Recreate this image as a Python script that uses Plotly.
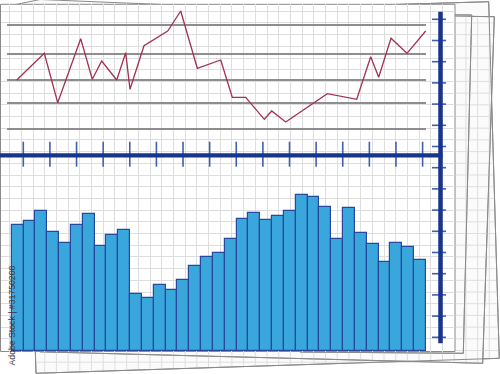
import plotly.graph_objects as go

W, H = 500, 374

# ---------------- data ----------------
bar_index = list(range(35))
bar_values = [125.7, 130.0, 139.3, 118.7, 108.0, 125.7, 136.7, 104.3, 115.7, 120.7,
              56.7, 52.7, 66.0, 60.7, 70.7, 85.0, 94.0, 98.0, 111.7, 131.7,
              138.0, 131.0, 134.3, 139.7, 156.0, 154.0, 143.7, 111.7, 143.0, 117.3,
              106.7, 88.7, 107.3, 103.7, 90.3]

line_x = [0, 27.6, 41.0, 64.0, 75.6, 85.0, 100.0, 109.0, 113.3, 127.3, 151.0, 164.0, 180.6,
          204.0, 215.6, 229.0, 247.6, 255.0, 269.0, 310.6, 340.0, 354.0, 362.0, 374.3,
          390.3, 409.0]
line_values = [75.0, 101.7, 52.3, 116.3, 75.7, 94.0, 75.0, 102.3, 65.7, 109.3, 124.0, 144.0,
               86.7, 95.0, 57.7, 57.7, 35.7, 44.0, 33.0, 61.3, 55.7, 98.3, 77.7, 116.7,
               101.7, 124.0]

ref_levels = [130.0, 101.0, 75.0, 51.7, 25.7]

watermark = "Adobe Stock | #31750208"

# ---------------- helpers (pixel -> paper) ----------------
def X(px):
    return px / W

def Y(py):
    return 1 - py / H

def poly(points, fill, line_color="#8a8a8a", lw=1.0):
    d = "M " + " L ".join(f"{X(a):.5f},{Y(b):.5f}" for a, b in points) + " Z"
    return dict(type="path", path=d, xref="paper", yref="paper", layer="below",
                fillcolor=fill, line=dict(color=line_color, width=lw))

def seg(x0, y0, x1, y1, color, lw, layer="below"):
    return dict(type="line", xref="paper", yref="paper", layer=layer,
                x0=X(x0), y0=Y(y0), x1=X(x1), y1=Y(y1),
                line=dict(color=color, width=lw))

shapes = []
GRID = "#dedede"
STEP = 11.7

# sheets behind (back to front)
sheet_F = [(16.7, 4.3), (40, -0.5), (175, 5.0), (100, 60)]
sheet_B = [(25, 15.6), (488.7, 1.7), (499.3, 358.3), (36, 373.3)]
sheet_D = [(300, 14.0), (494.3, 16.7), (482.7, 363.3), (40, 351.8)]
sheet_C = [(300, 14.0), (471.7, 15.0), (463.3, 353.3), (300, 352.0)]
for s in (sheet_F, sheet_B, sheet_D, sheet_C):
    shapes.append(poly(s, "#fbfbfb"))

def lerp(p, q, t):
    return p + (q - p) * t

def bottom_at(x):
    yb = lerp(373.3, 358.3, (x - 36) / (499.3 - 36))
    yd = lerp(351.8, 363.3, (x - 40) / (482.7 - 40)) if x <= 482.7 else 0
    return max(yb, yd)

def right_at(y):
    xb = lerp(488.7, 499.3, (y - 1.7) / (358.3 - 1.7))
    xd = lerp(494.3, 482.7, (y - 16.7) / (363.3 - 16.7))
    return max(xb, xd)

# grid on the visible parts of the back sheets
k = 0
while True:
    gx = 9.6 + STEP * k
    if gx > 499:
        break
    if gx > 37:
        if gx > 456:
            shapes.append(seg(gx, 17.5, gx, bottom_at(gx) - 0.8, GRID, 1))
        else:
            shapes.append(seg(gx, 352, gx, bottom_at(gx) - 0.8, GRID, 1))
    k += 1
k = 0
while True:
    gy = 11.2 + STEP * k
    if gy > 374:
        break
    if 17.5 < gy < 352:
        shapes.append(seg(455.5, gy, right_at(gy) - 0.8, gy, GRID, 1))
    elif gy >= 352:
        xs = [x for x in range(37, 499) if bottom_at(x) - 0.8 > gy]
        if xs:
            shapes.append(seg(xs[0], gy, xs[-1], gy, GRID, 1))
    k += 1

# redraw back-sheet edges over their grids
for s in (sheet_B, sheet_D, sheet_C):
    shapes.append(poly(s, "rgba(0,0,0,0)"))

# front sheet
shapes.append(dict(type="rect", xref="paper", yref="paper", layer="below",
                   x0=X(0.5), y0=Y(351.5), x1=X(455), y1=Y(4.3),
                   fillcolor="white", line=dict(color="#8a8a8a", width=1)))

# blue axes with crossing ticks
NAVY = "#17358c"
TICK = "#3f60ae"
for i in range(16):
    tx = 23.3 + 26.62 * i
    shapes.append(seg(tx, 141.7, tx, 166.7, TICK, 1.6, layer="above"))
for i in range(16):
    ty = 19.3 + 21.2 * i
    shapes.append(seg(432, ty, 446, ty, TICK, 1.6, layer="above"))
shapes.append(seg(0, 155.3, 442.5, 155.3, NAVY, 4.2, layer="above"))
shapes.append(seg(440.5, 11.7, 440.5, 343.3, NAVY, 4.5, layer="above"))

# ---------------- figure ----------------
fig = go.Figure()

# invisible trace to create the grid subplot (x/y)
fig.add_trace(go.Scatter(x=[None], y=[None], xaxis="x", yaxis="y",
                         showlegend=False, hoverinfo="skip"))

fig.add_trace(go.Bar(x=bar_index, y=bar_values, xaxis="x2", yaxis="y2",
                     marker=dict(color="#3aa7dc", line=dict(color="#27489c", width=1.2)),
                     width=1.0, showlegend=False))

fig.add_trace(go.Scatter(x=line_x, y=line_values, xaxis="x3", yaxis="y3", mode="lines",
                         line=dict(color="#a2324f", width=1.3), showlegend=False))

BAR_W = (426 - 11.7) / 35
bar_lo = -0.5 - 11.7 / BAR_W
bar_hi = -0.5 + (W - 11.7) / BAR_W

hidden = dict(showticklabels=False, ticks="", zeroline=False, showline=False,
              showgrid=False, fixedrange=True)

fig.update_layout(
    width=W, height=H,
    margin=dict(l=0, r=0, t=0, b=0),
    paper_bgcolor="white", plot_bgcolor="rgba(0,0,0,0)",
    showlegend=False,
    bargap=0,
    xaxis=dict(hidden, domain=[X(0.5), X(455)], range=[0.5, 455],
               showgrid=True, gridcolor=GRID, gridwidth=1, tick0=9.6, dtick=STEP,
               anchor="y"),
    yaxis=dict(hidden, domain=[Y(351.5), Y(4.3)], range=[351.5, 4.3],
               showgrid=True, gridcolor=GRID, gridwidth=1, tick0=11.2, dtick=STEP,
               anchor="x"),
    xaxis2=dict(hidden, domain=[0, 1], range=[bar_lo, bar_hi], anchor="y2"),
    yaxis2=dict(hidden, domain=[0, 1], range=[-(H - 350.7), 350.7], anchor="x2"),
    xaxis3=dict(hidden, domain=[X(7), X(426)], range=[7 - 16.7, 426 - 16.7], anchor="y3"),
    yaxis3=dict(hidden, domain=[0, 1], range=[155 - H, 155], anchor="x3",
                tickmode="array", tickvals=ref_levels, showgrid=True,
                gridcolor="#8e8e8e", gridwidth=1.5),
    shapes=shapes,
    annotations=[dict(text=watermark, xref="paper", yref="paper",
                      x=X(11.5), y=Y(316), textangle=-90, showarrow=False,
                      xanchor="center", yanchor="middle",
                      font=dict(family="Liberation Sans, Arial, sans-serif",
                                size=8.7, color="#3a3a3a"))],
)

fig.write_html(
    "out.html",
    config={"displayModeBar": False},
    post_script="document.body.style.margin='0';document.body.style.overflow='hidden';",
)
